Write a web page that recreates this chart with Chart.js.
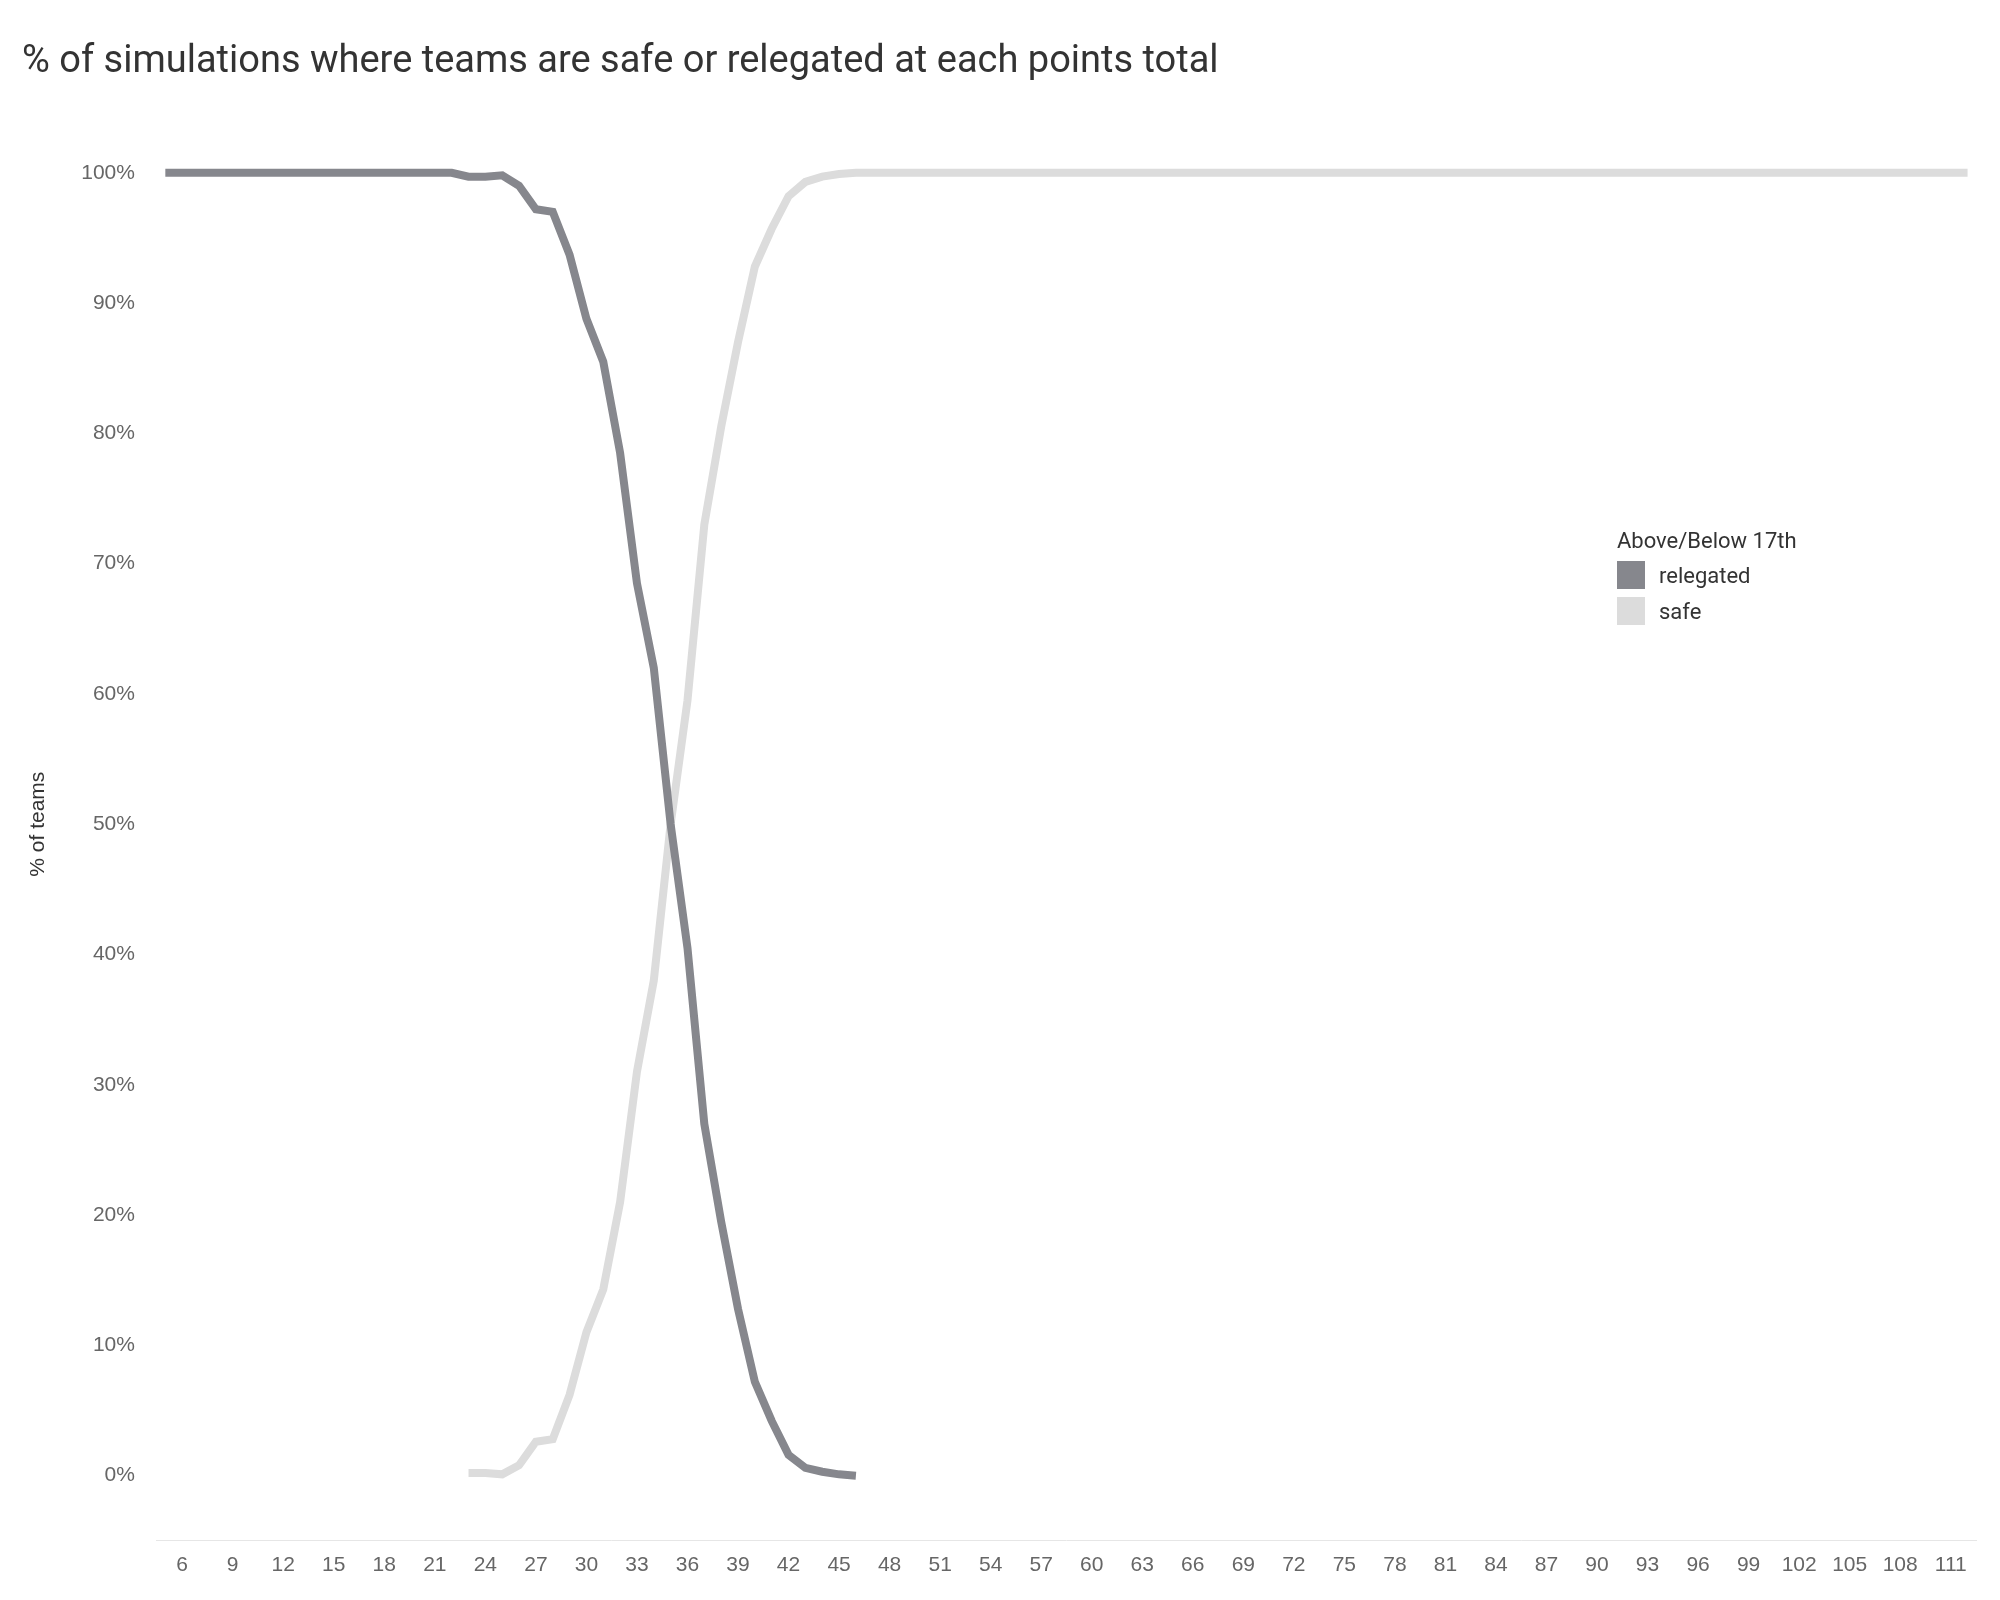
<!DOCTYPE html>
<html>
<head>
<meta charset="utf-8">
<script src="https://cdn.jsdelivr.net/npm/chart.js@4"></script>
<style>
body{margin:0;background:#fff;font-family:Roboto,"Open Sans",sans-serif;}
#wrap{position:relative;width:2000px;height:1600px;}
#legend{position:absolute;left:1617px;top:528px;color:#333;font-size:22px;}
#legend .row{display:flex;align-items:center;margin-top:8px;}
#legend .sw{width:28px;height:28px;margin-right:14px;}
</style>
</head>
<body>
<div id="wrap">
<canvas id="chart" width="2000" height="1600"></canvas>
<div id="legend">
  <div>Above/Below 17th</div>
  <div class="row"><div class="sw" style="background:#86878d"></div>relegated</div>
  <div class="row"><div class="sw" style="background:#dcdcdc"></div>safe</div>
</div>
</div>
<script>
// puntos 5..112
const points = [];
for (let p = 5; p <= 112; p++) points.push(p);

const relegated = [100,100,100,100,100,100,100,100,100,100,100,100,100,100,100,100,100,100,
  99.7,99.7,99.8,99.0,97.2,97.0,93.7,88.8,85.5,78.5,68.5,62.0,50.0,40.5,27.0,19.5,12.8,7.2,4.2,1.6,0.6,0.3,0.1,0];

const safeStart = [0.2,0.2,0.1,0.8,2.6,2.8,6.2,11,14.3,21,31,38,50,59.5,73,80.5,87,92.8,95.7,98.2,99.3,99.7,99.9];

// 5..22 sin datos, luego desde 23
const safe = [];
for (let i = 0; i < 18; i++) safe.push(null);
safeStart.forEach(v => safe.push(v));
while (safe.length < points.length) safe.push(100);

new Chart(document.querySelector('#chart'), {
    type: 'line',
    data: {
        labels: points,
        datasets: [{
            label: 'relegated',
            data: relegated,
            borderColor: '#86878d',
            borderWidth: 8,
            pointRadius: 0,
            tension: 0
        }, {
            label: 'safe',
            data: safe,
            borderColor: '#dcdcdc',
            borderWidth: 8,
            pointRadius: 0,
            tension: 0
        }]
    },
    options: {
        responsive: false,
        animation: false,
        layout: { padding: { left: 22, right: 24, top: 10, bottom: 10 } },
        plugins: {
            legend: { display: false },
            tooltip: { enabled: false },
            title: {
                display: true,
                text: '% of simulations where teams are safe or relegated at each points total',
                align: 'start',
                color: '#333',
                font: { size: 38, family: 'Roboto', weight: 'normal' },
                padding: { top: 30, bottom: 22 }
            }
        },
        scales: {
            x: {
                offset: true,
                grid: { display: false, drawTicks: false },
                border: { color: '#e6e6e6' },
                ticks: {
                    autoSkip: false,
                    maxRotation: 0,
                    color: '#666',
                    font: { size: 21 },
                    padding: 12,
                    callback: function(value) {
                        const p = points[value];
                        return (p - 6) % 3 === 0 ? String(p) : '';
                    }
                }
            },
            y: {
                min: -5,
                max: 105,
                grid: { display: false },
                border: { display: false },
                afterBuildTicks: axis => {
                    axis.ticks = [0,10,20,30,40,50,60,70,80,90,100].map(v => ({ value: v }));
                },
                ticks: {
                    color: '#666',
                    font: { size: 21 },
                    padding: 14,
                    callback: v => v + '%'
                },
                title: {
                    display: true,
                    text: '% of teams',
                    color: '#333',
                    font: { size: 21 },
                    padding: { bottom: 16 }
                }
            }
        }
    }
});
</script>
</body>
</html>
